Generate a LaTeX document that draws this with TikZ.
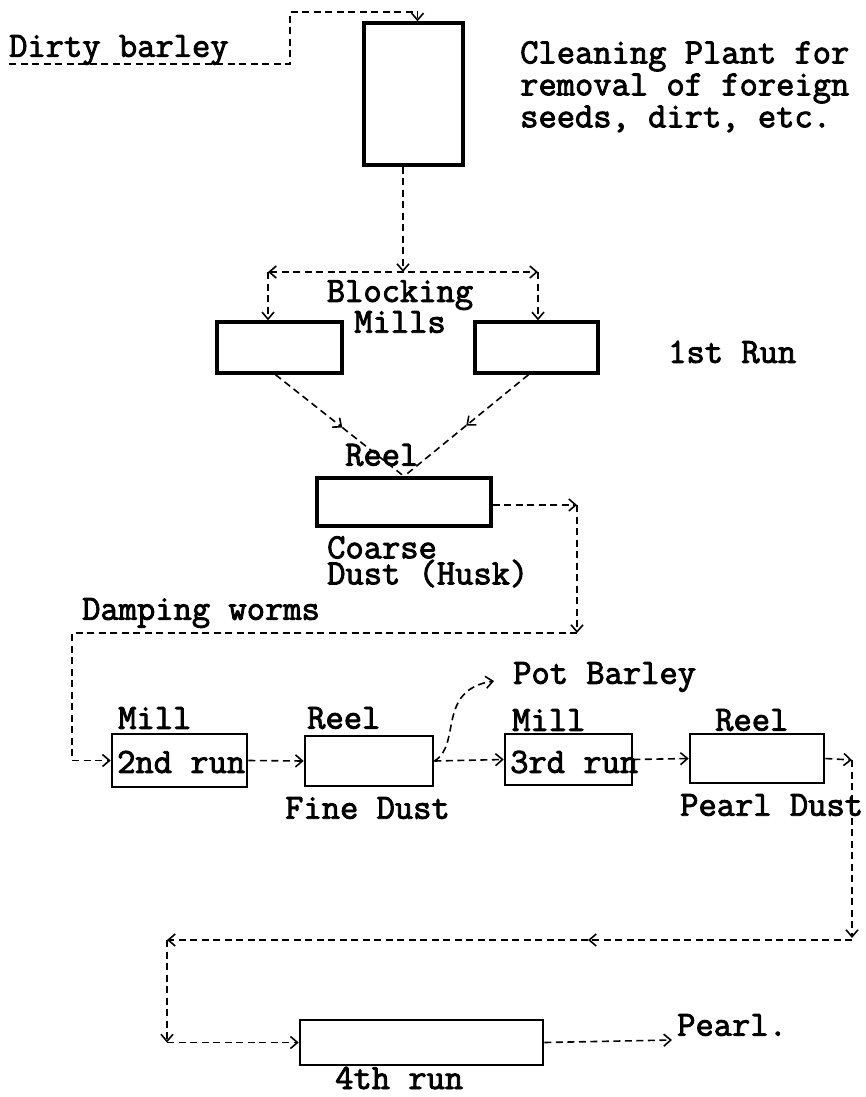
\documentclass[tikz,border=0pt]{standalone}
\usepackage{fontspec}
\newfontfamily\tw{Latin Modern Mono}[FakeBold=2.5]
\usetikzlibrary{arrows.meta,calc}
\begin{document}
\begin{tikzpicture}[x=1pt,y=-1pt,
  box/.style={draw,line width=3.4pt,inner sep=0pt},
  rowbox/.style={draw,line width=2.6pt,inner sep=0pt},
  flow/.style={dash pattern=on 7pt off 4.5pt,line width=1.6pt},
  barb/.tip={Straight Barb[length=7pt,width=12pt,line width=1.6pt]},
  lbl/.style={font=\tw\fontsize{35.5}{35}\selectfont,inner sep=0pt,anchor=west},
]
\fill[white] (0,0) rectangle (865,1097);
\useasboundingbox (0,0) rectangle (865,1097);

% boxes
\node[box,minimum width=99,minimum height=142] (clean) at (413.5,94) {};
\node[box,minimum width=125,minimum height=51] (bl) at (279.5,347.5) {};
\node[box,minimum width=123,minimum height=51] (br) at (536.5,347.5) {};
\node[box,minimum width=174,minimum height=48] (reel1) at (404,502) {};
\node[rowbox,minimum width=135,minimum height=53] (mill2) at (179.5,760.5) {};
\node[rowbox,minimum width=128,minimum height=50] (reel2) at (369,761) {};
\node[rowbox,minimum width=127,minimum height=51] (mill3) at (568.5,759.5) {};
\node[rowbox,minimum width=134,minimum height=49] (reel3) at (757,758.5) {};
\node[rowbox,minimum width=243,minimum height=45] (run4) at (421.5,1042.5) {};

% labels
\node[lbl] (dirty) at (9,50) {Dirty barley};
\node[lbl,anchor=north west,align=left,font=\tw\fontsize{35.5}{32}\selectfont] (clean text) at (520,41)
  {Cleaning Plant for\\removal of foreign\\seeds, dirt, etc.};
\node[lbl,anchor=north,align=center,font=\tw\fontsize{35.5}{28}\selectfont] (blk) at (400,280) {Blocking\\Mills};
\node[lbl] (run1) at (668,352) {1st Run};
\node[lbl] (reeltxt) at (345,455) {Reel};
\node[lbl,anchor=north west,align=left,font=\tw\fontsize{35.5}{24}\selectfont] (coarse) at (327,536) {Coarse\\Dust (Husk)};
\node[lbl] (damp) at (82,613) {Damping worms};
\node[lbl] (milla) at (118,718) {Mill};
\node[lbl] (run2) at (117,762) {2nd run};
\node[lbl] (reela) at (307,718) {Reel};
\node[lbl] (fine) at (285,808) {Fine Dust};
\node[lbl] (pot) at (513,677) {Pot Barley};
\node[lbl] (millb) at (512,720) {Mill};
\node[lbl] (run3) at (510,762) {3rd run};
\node[lbl] (reelb) at (715,720) {Reel};
\node[lbl] (pdust) at (680,805) {Pearl Dust};
\node[lbl] (pearl) at (677,1025) {Pearl.};
\node[lbl] (run4t) at (335,1078) {4th run};

% connectors
\coordinate (d0) at (9,64);
\coordinate (d1) at (290,12);
\draw[flow,-barb] (d0) -| (d1) -| ([xshift=4pt]clean.north);

\coordinate (sp) at (403,272);
\coordinate (sl) at (268,272);
\coordinate (sr) at (538,272);
\draw[flow,-barb] (clean.south -| sp) -- (sp);
\draw[flow,barb-barb] (sl) -- (sr);
\draw[flow,-barb] (sl) -- (sl |- bl.north);
\draw[flow,-barb] (sr) -- (sr |- br.north);

\coordinate (la) at ([xshift=-4pt]bl.south);
\coordinate (ra) at ([xshift=-8pt]br.south);
\coordinate (lm) at ($(la)!0.52!(reel1.north)$);
\coordinate (rm) at ($(ra)!0.5!(reel1.north)$);
\draw[flow,-barb] (la) -- (lm);
\draw[flow] (lm) -- (reel1.north);
\draw[flow,-barb] (ra) -- (rm);
\draw[flow] (rm) -- (reel1.north);

\coordinate (c1) at (577,505);
\coordinate (c2) at (577,633);
\coordinate (c3) at (72,633);
\draw[flow,-barb] (reel1.east |- c1) -- (c1);
\draw[flow,-barb] (c1) -- (c2);
\draw[flow,-barb] (c2) -- (c3) |- (mill2.west);

\draw[flow,-barb] (mill2.east) -- (reel2.west);
\draw[flow,-barb] (reel2.east) -- (mill3.west);
\draw[flow,-barb] (mill3.east) -- (reel3.west);
\coordinate (pb) at (494,681);
\draw[flow,-barb] (reel2.east) .. controls (462,745) and (436,690) .. (pb);

\coordinate (e1) at (852,760);
\coordinate (e2) at (852,938);
\coordinate (e3) at (167,940);
\coordinate (em) at (588,940);
\draw[flow,-barb] (reel3.east) -- (e1);
\draw[flow,-barb] (e1) -- (e2);
\draw[flow,-barb] (e2 |- em) -- (em);
\draw[flow,-barb] (em) -- (e3);
\draw[flow,-barb] (e3) -- (e3 |- run4.west);
\draw[flow,-barb] (e3 |- run4.west) -- (run4.west);
\coordinate (pp) at (672,1040);
\draw[flow,-barb] (run4.east) -- (pp);
\end{tikzpicture}
\end{document}
